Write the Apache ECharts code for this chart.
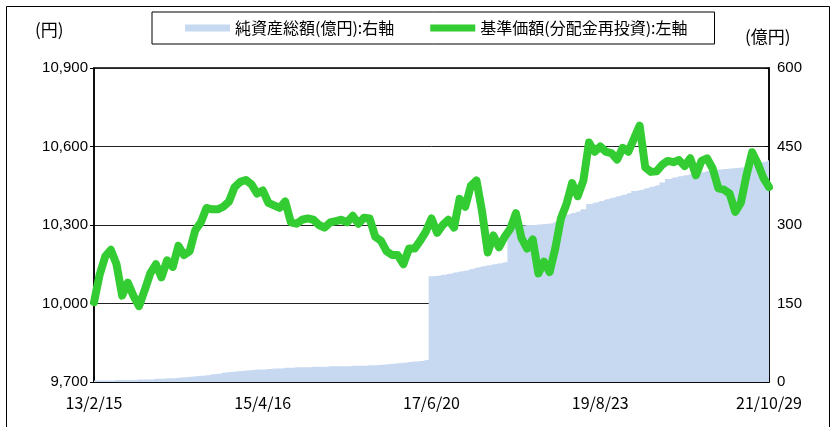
<!DOCTYPE html>
<html>
<head>
<meta charset="utf-8">
<script src="https://cdn.jsdelivr.net/npm/echarts@6/dist/echarts.min.js"></script>
<style>
  html, body { margin: 0; padding: 0; background: #fff; }
  #main { width: 835px; height: 427px; }
</style>
</head>
<body>
<div id="main"></div>
<script>
// 基準価額（分配金再投資）: 左軸, 円
const navValues = [
  10005, 10110, 10180, 10205, 10150, 10030, 10080, 10030, 9990, 10050,
  10115, 10150, 10100, 10165, 10140, 10220, 10185, 10200, 10280, 10310,
  10365, 10360, 10360, 10370, 10390, 10445, 10465, 10472, 10455, 10420,
  10432, 10385, 10375, 10365, 10390, 10310, 10305, 10320, 10325, 10320,
  10300, 10290, 10310, 10315, 10320, 10310, 10335, 10305, 10328, 10325,
  10255, 10240, 10200, 10185, 10185, 10150, 10210, 10210, 10240, 10275,
  10325, 10270, 10300, 10320, 10290, 10400, 10370, 10450, 10470, 10350,
  10195, 10260, 10215, 10255, 10285, 10345, 10250, 10210, 10245, 10115,
  10160, 10120, 10210, 10325, 10380, 10460, 10410, 10470, 10615, 10580,
  10600, 10580, 10575, 10550, 10595, 10580, 10630, 10680, 10520, 10503,
  10505, 10530, 10545, 10540, 10548, 10525, 10555, 10490, 10545, 10555,
  10515, 10440, 10435, 10420, 10350, 10385, 10490, 10578, 10535, 10480,
  10445
]
// 純資産総額: 右軸, 億円
const assetValues = [
  3, 3, 3, 3, 4, 4, 4, 4, 5, 5,
  5, 6, 6, 7, 7, 8, 9, 10, 11, 12,
  13, 15, 16, 18, 19, 20, 21, 22, 23, 24,
  24, 25, 26, 26, 27, 27, 28, 28, 28, 29,
  29, 29, 30, 30, 30, 30, 31, 31, 31, 32,
  32, 33, 34, 35, 36, 37, 38, 39, 40, 42,
  202, 203, 205, 207, 209, 211, 213, 216, 219, 221,
  223, 225, 227, 229, 297, 298, 299, 300, 300, 301,
  302, 303, 306, 315, 320, 323, 326, 330, 340, 343,
  346, 349, 352, 355, 358, 361, 365, 367, 370, 373,
  376, 381, 388, 391, 393, 395, 397, 399, 401, 403,
  404, 406, 407, 408, 409, 410, 412, 415, 418, 421,
  424
]
const tickLabels = ['13/2/15', '15/4/16', '17/6/20', '19/8/23', '21/10/29']
const labelStep = 30
const categories = navValues.map((v, i) => String(i))

const chart = echarts.init(document.getElementById('main'), null, { renderer: 'canvas' })
const jp = "'Noto Sans CJK JP', sans-serif"
const num = "'Liberation Sans', Arial, sans-serif"

const option = {
  backgroundColor: '#fff',
  animation: false,
  graphic: [
    {
      type: 'rect',
      shape: { x: 6.5, y: 6.5, width: 823, height: 440 },
      style: { fill: 'none', stroke: '#000', lineWidth: 1 },
      silent: true
    },
    {
      type: 'text',
      left: 35, top: 21,
      style: { text: '(円)', font: '17px ' + jp, fill: '#000' }
    },
    {
      type: 'text',
      left: 745, top: 28,
      style: { text: '(億円)', font: '17px ' + jp, fill: '#000' }
    }
  ],
  legend: {
    left: 152,
    top: 12,
    itemWidth: 45,
    itemHeight: 7,
    itemGap: 36,
    padding: [8, 27, 8, 33],
    borderColor: '#000',
    borderWidth: 1,
    textStyle: { fontFamily: jp, fontSize: 16, color: '#000' },
    data: [
      { name: '純資産総額(億円):右軸', icon: 'rect' },
      { name: '基準価額(分配金再投資):左軸', icon: 'rect' }
    ]
  },
  grid: {
    left: 94,
    right: 66,
    top: 68,
    bottom: 45,
    show: true,
    borderColor: '#000',
    borderWidth: 1.5
  },
  xAxis: {
    type: 'category',
    data: categories,
    boundaryGap: false,
    axisLine: { show: true, lineStyle: { color: '#000', width: 1.5 } },
    axisTick: {
      show: true,
      inside: true,
      length: 5,
      interval: labelStep - 1,
      lineStyle: { color: '#000' }
    },
    axisLabel: {
      interval: labelStep - 1,
      margin: 13,
      fontFamily: jp,
      fontSize: 16,
      color: '#000',
      formatter: function (value, idx) {
        return idx % labelStep === 0 ? tickLabels[idx / labelStep] : ''
      }
    },
    splitLine: { show: false }
  },
  yAxis: [
    {
      type: 'value',
      position: 'left',
      min: 9700,
      max: 10900,
      interval: 300,
      axisLine: { show: true, lineStyle: { color: '#000', width: 1.5 } },
      axisTick: { show: true, length: 4, lineStyle: { color: '#000' } },
      axisLabel: {
        margin: 6,
        fontFamily: num,
        fontSize: 15,
        color: '#000',
        formatter: v => v.toLocaleString('en-US')
      },
      splitLine: { show: true, lineStyle: { color: '#222', width: 1 } }
    },
    {
      type: 'value',
      position: 'right',
      min: 0,
      max: 600,
      interval: 150,
      axisLine: { show: true, lineStyle: { color: '#000', width: 1.5 } },
      axisTick: { show: true, inside: true, length: 4, lineStyle: { color: '#000' } },
      axisLabel: {
        margin: 8,
        fontFamily: num,
        fontSize: 15,
        color: '#000'
      },
      splitLine: { show: false }
    }
  ],
  series: [
    {
      name: '純資産総額(億円):右軸',
      type: 'line',
      yAxisIndex: 1,
      step: 'middle',
      data: assetValues,
      symbol: 'none',
      lineStyle: { width: 0 },
      itemStyle: { color: '#C6D9F1' },
      areaStyle: { color: '#C6D9F1', opacity: 1 },
      z: 1
    },
    {
      name: '基準価額(分配金再投資):左軸',
      type: 'line',
      yAxisIndex: 0,
      data: navValues,
      symbol: 'none',
      itemStyle: { color: '#33CC33' },
      lineStyle: { color: '#33CC33', width: 8, cap: 'round', join: 'round' },
      z: 3
    }
  ]
}

chart.setOption(option)
</script>
</body>
</html>
